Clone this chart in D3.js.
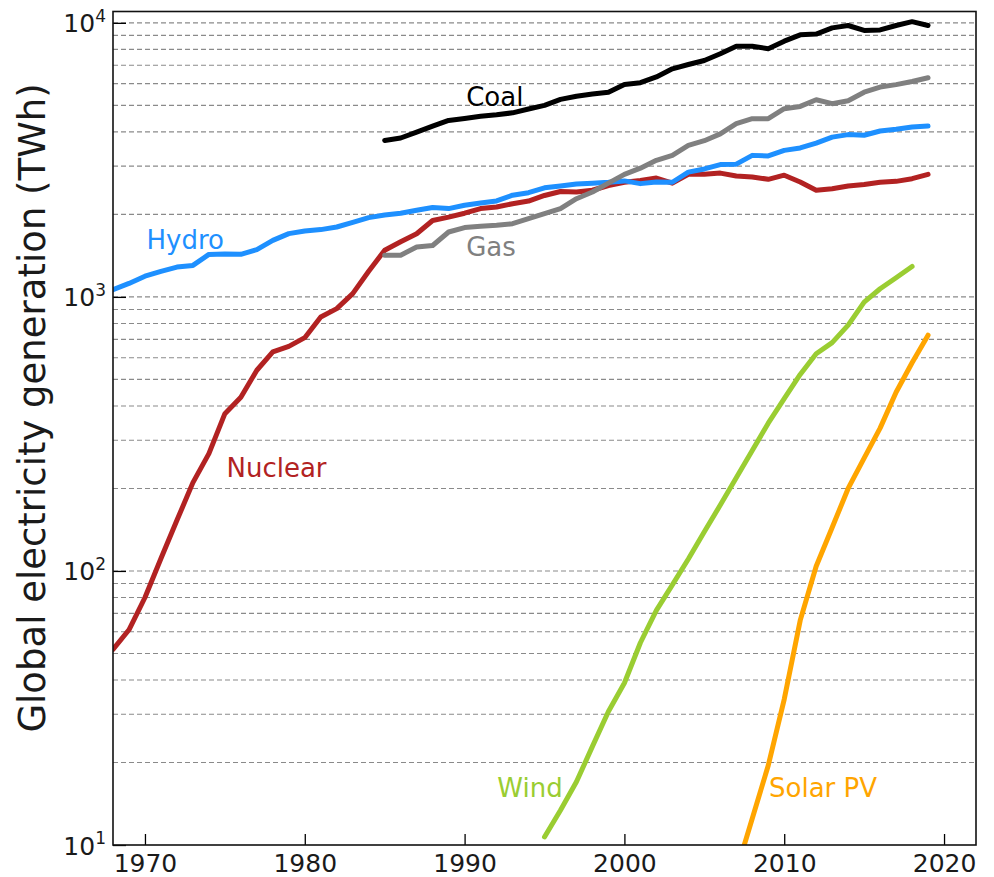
<!DOCTYPE html>
<html><head><meta charset="utf-8">
<script src="https://cdn.jsdelivr.net/npm/d3@7"></script>
<style>
html,body{margin:0;padding:0;background:#fff;}
text{font-family:"DejaVu Sans",sans-serif;}
</style></head>
<body>
<svg id="chart" width="994" height="877"></svg>
<script>
// ---- data (TWh) ----
const hydroYears = d3.range(1968, 2020);
const hydroValues = [1063,1120,1190,1240,1285,1303,1429,1435,1430,1488,1608,1702,1740,1760,1799,1870,1946,1990,2020,2070,2120,2100,2160,2200,2240,2350,2400,2500,2540,2580,2600,2620,2650,2590,2625,2620,2853,2930,3040,3050,3284,3270,3425,3495,3641,3828,3910,3890,4030,4090,4165,4200];

const nuclearYears = d3.range(1968, 2020);
const nuclearValues = [51.7,61,80,111,153,210,268,375,430,540,630,660,710,845,906,1028,1240,1480,1590,1700,1900,1955,2020,2100,2128,2188,2237,2345,2425,2413,2450,2550,2620,2660,2715,2600,2800,2800,2830,2760,2740,2685,2780,2625,2450,2480,2540,2570,2620,2640,2700,2800];

const coalYears = d3.range(1985, 2020);
const coalValues = [3724,3800,3995,4200,4405,4480,4560,4620,4695,4850,5000,5257,5400,5500,5585,5960,6050,6350,6795,7045,7290,7710,8220,8220,8045,8575,9040,9100,9585,9780,9380,9420,9780,10100,9780];

const gasYears = d3.range(1985, 2020);
const gasValues = [1420,1420,1520,1540,1725,1790,1810,1825,1850,1930,2012,2100,2282,2413,2600,2800,2950,3150,3284,3570,3715,3935,4285,4470,4470,4860,4955,5242,5070,5200,5585,5830,5950,6110,6305];

const windYears = d3.range(1995, 2019);
const windValues = [10.7,13.4,17,22.9,30.7,39,54.7,71.8,89,110.6,139,174,219,275,346,425,521,620,681,789,957,1071,1175,1291];

const solarYears = d3.range(2007, 2020);
const solarValues = [8.0,12.5,19.5,34,66,104,144,200,258,332,449,575,725];

const xTicks = [1970,1980,1990,2000,2010,2020];
const yMajorTicks = [10,100,1000,10000];
const yExponents = ["1","2","3","4"];

const seriesNames = ["Nuclear","Hydro","Gas","Coal","Wind","Solar PV"];
const seriesColors = ["#b22222","#1e90ff","#808080","#000000","#9acd32","#ffa500"];

// ---- layout ----
const svg = d3.select("#chart");
const L = 113, R = 976, T = 11.5, B = 845;

const x = d3.scaleLinear().domain([1968, 2022]).range([L, R]);
const y = d3.scaleLog().domain([10, 11000]).range([B, T]);

// clip
svg.append("defs").append("clipPath").attr("id","plotclip")
  .append("rect").attr("x",L).attr("y",T).attr("width",R-L).attr("height",B-T);

// grid lines (major + minor)
const gridVals = [];
yMajorTicks.forEach(m => { for (let k=1;k<=9;k++){ const v=m*k; if (v<=10000) gridVals.push(v);} });
svg.append("g").selectAll("line").data(gridVals.filter(v=>v>10)).join("line")
  .attr("x1",L).attr("x2",R)
  .attr("y1",d=>y(d)).attr("y2",d=>y(d))
  .attr("stroke","#8a8a8a").attr("stroke-width",1.1)
  .attr("stroke-dasharray","5,3");

// series
const series = [
  {name:"Nuclear", years:nuclearYears, values:nuclearValues},
  {name:"Hydro", years:hydroYears, values:hydroValues},
  {name:"Gas", years:gasYears, values:gasValues},
  {name:"Coal", years:coalYears, values:coalValues},
  {name:"Wind", years:windYears, values:windValues},
  {name:"Solar PV", years:solarYears, values:solarValues}
];
const color = d3.scaleOrdinal().domain(seriesNames).range(seriesColors);
const line = d3.line().x(d=>x(d[0])).y(d=>y(d[1]));
const gl = svg.append("g").attr("clip-path","url(#plotclip)");
series.forEach(s => {
  gl.append("path")
    .datum(s.years.map((yr,i)=>[yr, s.values[i]]))
    .attr("d", line)
    .attr("fill","none")
    .attr("stroke", color(s.name))
    .attr("stroke-width", 5)
    .attr("stroke-linejoin","round")
    .attr("stroke-linecap","round");
});

// axes (ticks inward)
const xAxis = d3.axisBottom(x).tickValues(xTicks).tickSize(-11).tickPadding(9).tickFormat(d3.format("d"));
const gx = svg.append("g").attr("transform",`translate(0,${B})`).call(xAxis);
gx.select(".domain").remove();
gx.selectAll(".tick line").attr("stroke","#000").attr("stroke-width",1.3);
gx.selectAll(".tick text").attr("font-size",25).attr("fill","#1a1a1a")
  .attr("font-family","DejaVu Sans").attr("dy","0.71em");

const yAxis = d3.axisLeft(y).tickValues(yMajorTicks).tickSize(-13).tickFormat(()=> "");
const gy = svg.append("g").attr("transform",`translate(${L},0)`).call(yAxis);
gy.select(".domain").remove();
gy.selectAll(".tick line").attr("stroke","#000").attr("stroke-width",1.3);
gy.selectAll(".tick").each(function(d,i){
  const t = d3.select(this).append("text")
    .attr("x",-7).attr("y",0).attr("dy","0.36em")
    .attr("text-anchor","end").attr("fill","#1a1a1a")
    .attr("font-size",25).attr("font-family","DejaVu Sans");
  t.append("tspan").text("10");
  t.append("tspan").attr("font-size",17).attr("dy","-0.62em").text(yExponents[i]);
});

// frame
svg.append("rect").attr("x",L).attr("y",T).attr("width",R-L).attr("height",B-T)
  .attr("fill","none").attr("stroke","#111").attr("stroke-width",1.6);

// y label
svg.append("text")
  .attr("transform",`translate(45,408) rotate(-90)`)
  .attr("text-anchor","middle")
  .attr("font-size",37).attr("fill","#1a1a1a")
  .text("Global electricity generation (TWh)");

// series labels
const labelPos = [
  {name:"Coal", year:1990.1, val:4985},
  {name:"Hydro", year:1970.1, val:1490},
  {name:"Gas", year:1990.1, val:1410},
  {name:"Nuclear", year:1975.1, val:221},
  {name:"Wind", year:1992.05, val:15},
  {name:"Solar PV", year:2009.05, val:15}
];
svg.append("g").selectAll("text").data(labelPos).join("text")
  .attr("x",d=>x(d.year)).attr("y",d=>y(d.val))
  .attr("font-size",26).attr("fill",d=>color(d.name))
  .text(d=>d.name);
</script>
</body></html>
